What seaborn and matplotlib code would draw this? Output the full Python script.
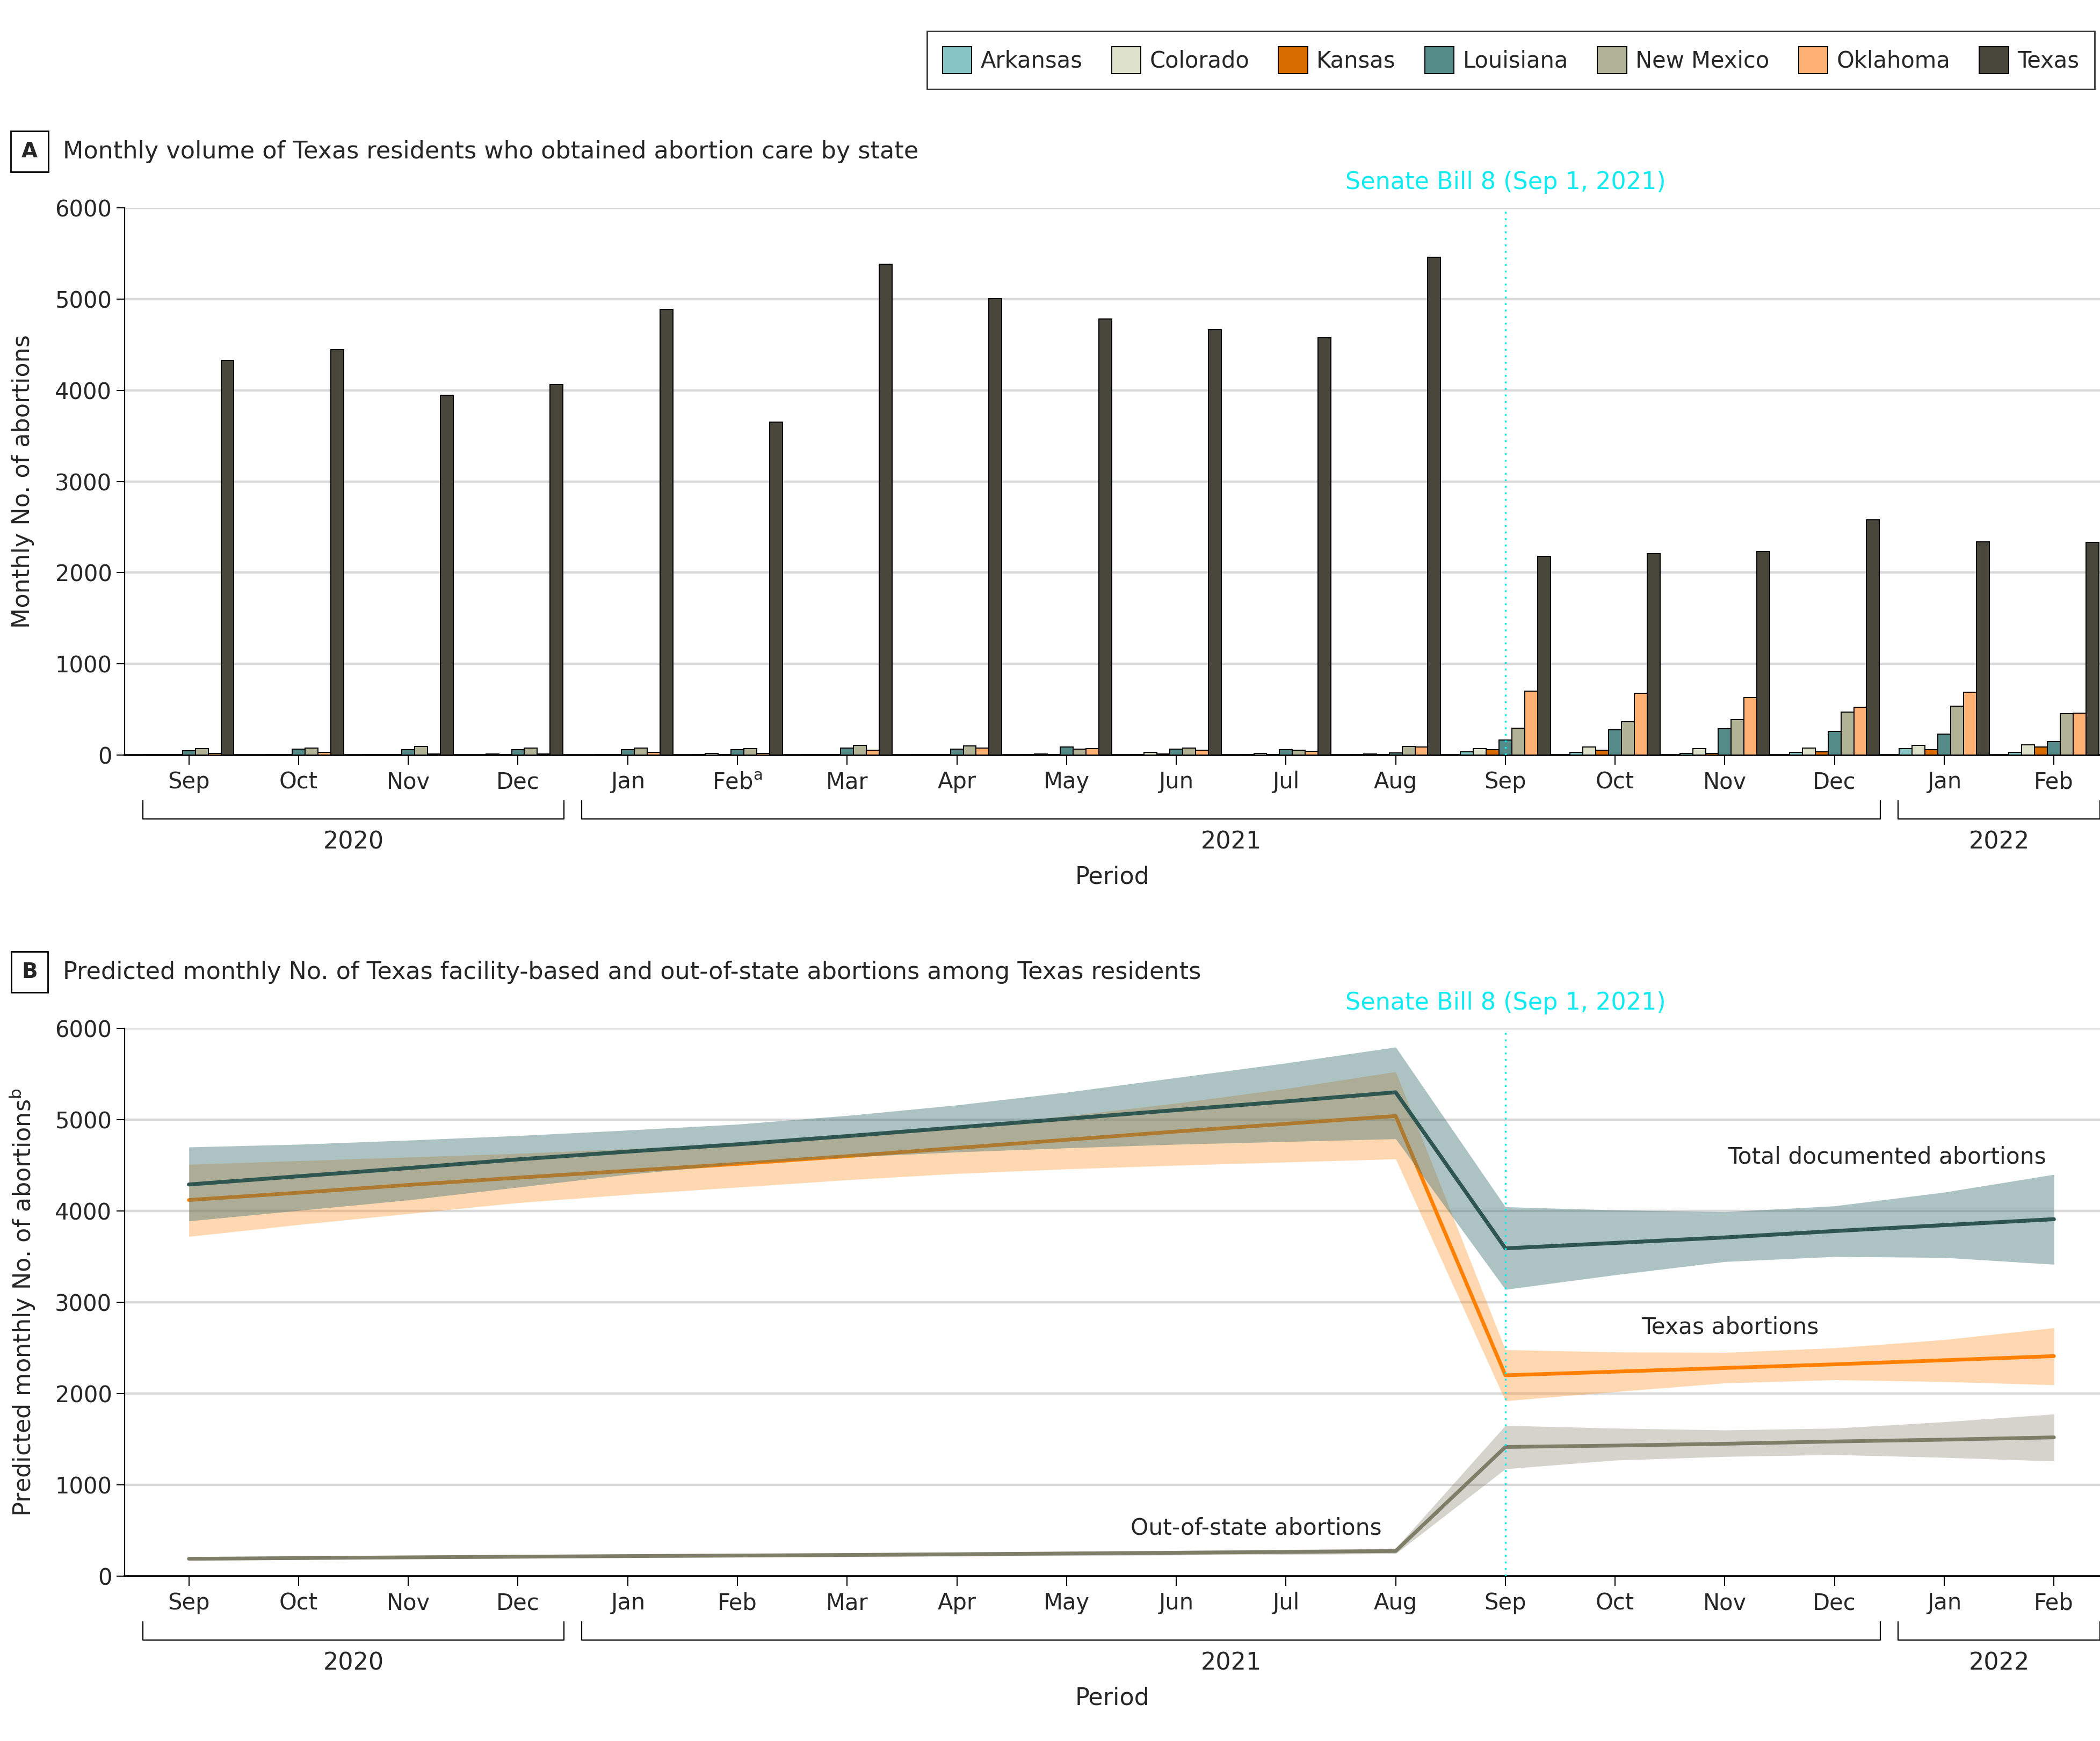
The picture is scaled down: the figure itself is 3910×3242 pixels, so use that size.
import matplotlib
matplotlib.use("Agg")
import matplotlib.pyplot as plt
import matplotlib.transforms as mtransforms
import seaborn as sns
import pandas as pd
import numpy as np

# ---------------- data ----------------
periods = ["2020-09", "2020-10", "2020-11", "2020-12", "2021-01", "2021-02", "2021-03",
           "2021-04", "2021-05", "2021-06", "2021-07", "2021-08", "2021-09", "2021-10",
           "2021-11", "2021-12", "2022-01", "2022-02"]
month_labels_a = ["Sep", "Oct", "Nov", "Dec", "Jan", "Feb$^{\\mathrm{a}}$", "Mar", "Apr", "May", "Jun",
                  "Jul", "Aug", "Sep", "Oct", "Nov", "Dec", "Jan", "Feb"]
month_labels_b = ["Sep", "Oct", "Nov", "Dec", "Jan", "Feb", "Mar", "Apr", "May", "Jun",
                  "Jul", "Aug", "Sep", "Oct", "Nov", "Dec", "Jan", "Feb"]
years = ["2020", "2021", "2022"]
year_first = [0, 4, 16]
year_last = [3, 15, 17]

states = ["Arkansas", "Colorado", "Kansas", "Louisiana", "New Mexico", "Oklahoma", "Texas"]
arkansas = [3, 2, 3, 2, 2, 5, 3, 3, 3, 4, 8, 8, 35, 28, 18, 30, 69, 30]
colorado = [4, 3, 8, 10, 8, 15, 8, 8, 12, 28, 20, 12, 71, 89, 71, 75, 104, 112]
kansas = [8, 8, 8, 5, 8, 8, 8, 8, 8, 10, 8, 4, 59, 53, 20, 37, 61, 89]
louisiana = [45, 63, 59, 57, 61, 59, 79, 63, 89, 63, 61, 22, 162, 274, 288, 262, 229, 150]
new_mexico = [70, 75, 93, 79, 79, 69, 106, 102, 65, 77, 55, 93, 295, 368, 390, 469, 536, 453]
oklahoma = [15, 28, 10, 12, 28, 20, 55, 75, 73, 51, 41, 87, 699, 676, 632, 526, 690, 461]
texas = [4330, 4445, 3946, 4064, 4885, 3653, 5384, 5002, 4782, 4665, 4577, 5457,
         2180, 2210, 2230, 2580, 2340, 2330]

total_pred = [4290, 4380, 4470, 4565, 4650, 4730, 4820, 4915, 5010, 5105, 5200, 5300,
              3590, 3650, 3710, 3780, 3845, 3910]
total_hi = [4700, 4730, 4775, 4825, 4885, 4950, 5045, 5160, 5300, 5460, 5620, 5795,
            4045, 4010, 3990, 4055, 4205, 4400]
total_lo = [3890, 4005, 4120, 4260, 4400, 4515, 4590, 4645, 4690, 4730, 4760, 4790,
            3140, 3300, 3445, 3500, 3490, 3415]
texas_pred = [4120, 4200, 4285, 4365, 4440, 4515, 4600, 4690, 4780, 4870, 4955, 5040,
              2200, 2240, 2280, 2320, 2365, 2410]
texas_hi = [4510, 4550, 4590, 4630, 4680, 4740, 4820, 4920, 5040, 5180, 5340, 5525,
            2480, 2455, 2450, 2500, 2590, 2720]
texas_lo = [3720, 3850, 3970, 4090, 4180, 4260, 4340, 4410, 4460, 4500, 4535, 4570,
            1920, 2020, 2115, 2150, 2130, 2095]
oos_pred = [190, 198, 206, 213, 220, 226, 232, 240, 248, 256, 265, 275,
            1415, 1430, 1450, 1475, 1495, 1520]
oos_hi = [205, 214, 223, 231, 239, 246, 253, 262, 271, 281, 292, 305,
          1650, 1620, 1600, 1620, 1690, 1775]
oos_lo = [175, 182, 189, 195, 201, 206, 211, 218, 225, 231, 238, 245,
          1175, 1270, 1310, 1330, 1300, 1260]

sb8_index = 12

# ---------------- style ----------------
state_colors = ["#87C4C4", "#DEE1CA", "#D96C00", "#558C8A", "#B1B396", "#FFB072", "#49463C"]
c_total = "#2E5550"
c_total_band = "#3C7272"
c_texas = "#FF8000"
c_oos = "#7E7D68"
c_cyan = "#12EAF2"
grid_c = "#D9D9D9"

sns.set_theme(style="white")
plt.rcParams["font.family"] = ["DejaVu Sans"]
FS = 30
FT = 32

W, H = 3910, 3242
fig = plt.figure(figsize=(W / 100, H / 100), dpi=100)

def axes_rect(left, top, right, bottom):
    return [left / W, 1 - bottom / H, (right - left) / W, (bottom - top) / H]

axA = fig.add_axes(axes_rect(232, 387, 3910, 1406))
axB = fig.add_axes(axes_rect(232, 1915, 3910, 2935))

# ---------------- panel A ----------------
dfA = pd.DataFrame({
    "period": periods * len(states),
    "state": np.repeat(states, len(periods)),
    "count": arkansas + colorado + kansas + louisiana + new_mexico + oklahoma + texas,
})
sns.barplot(data=dfA, x="period", y="count", hue="state", order=periods, hue_order=states,
            palette=state_colors, saturation=1, width=0.82, gap=0, edgecolor="black", linewidth=1.4,
            errorbar=None, ax=axA, zorder=3)
handles, labels = axA.get_legend_handles_labels()
if axA.get_legend() is not None:
    axA.get_legend().remove()

# ---------------- panel B ----------------
xs = np.arange(len(periods))
axB.fill_between(xs, texas_lo, texas_hi, color=c_texas, alpha=0.3, lw=0, zorder=2)
sns.lineplot(x=xs, y=texas_pred, color=c_texas, lw=5, ax=axB, zorder=3)
axB.fill_between(xs, total_lo, total_hi, color=c_total_band, alpha=0.42, lw=0, zorder=4)
sns.lineplot(x=xs, y=total_pred, color=c_total, lw=5.2, ax=axB, zorder=5)
axB.fill_between(xs, oos_lo, oos_hi, color=c_oos, alpha=0.33, lw=0, zorder=4)
sns.lineplot(x=xs, y=oos_pred, color=c_oos, lw=5, ax=axB, zorder=5)

axB.text(16.93, 4592, "Total documented abortions", ha="right", va="center", fontsize=FT - 1.5, zorder=6)
axB.text(14.05, 2729, "Texas abortions", ha="center", va="center", fontsize=FT - 1.5, zorder=6)
axB.text(9.73, 528, "Out-of-state abortions", ha="center", va="center", fontsize=FT - 1.5, zorder=6)

# ---------------- common axes formatting ----------------
for ax, mlabels, ylabel in [(axA, month_labels_a, "Monthly No. of abortions"),
                            (axB, month_labels_b, "Predicted monthly No. of abortions$^{\\mathrm{b}}$")]:
    ax.set_xlim(-0.586, 17.42)
    ax.set_ylim(0, 6000)
    ax.set_yticks([0, 1000, 2000, 3000, 4000, 5000, 6000])
    ax.set_yticklabels(["0", "1000", "2000", "3000", "4000", "5000", "6000"], fontsize=FS)
    ax.set_xticks(range(len(periods)))
    ax.set_xticklabels(mlabels, fontsize=FS)
    ax.set_xlabel("")
    ax.set_ylabel(ylabel, fontsize=FT, va="center")
    ax.yaxis.set_label_coords(-0.0515, 0.5)
    ax.grid(axis="y", color=grid_c, lw=3.2, zorder=0)
    ax.grid(axis="x", visible=False)
    ax.set_axisbelow(True)
    for s in ["top", "right"]:
        ax.spines[s].set_visible(False)
    ax.spines["left"].set_color("black")
    ax.spines["left"].set_linewidth(1.6)
    ax.spines["bottom"].set_color("black")
    ax.spines["bottom"].set_linewidth(2.6)
    ax.tick_params(axis="x", direction="out", length=13, width=1.5, color="black", pad=8, bottom=True)
    ax.tick_params(axis="y", direction="out", length=11, width=1.5, color="black", pad=6, left=True)
    ax.axvline(sb8_index, color=c_cyan, ls=(0, (1, 2.5)), lw=2.5, zorder=6)
    ax.text(sb8_index, 6000 * 1.047, "Senate Bill 8 (Sep 1, 2021)", color=c_cyan,
            ha="center", va="center", fontsize=FT)
    trans = mtransforms.blended_transform_factory(ax.transData, ax.transAxes)
    for yr, a, b in zip(years, year_first, year_last):
        x0, x1 = a - 0.42, b + 0.42
        ax.plot([x0, x0, x1, x1], [-0.083, -0.117, -0.117, -0.083], color="black", lw=1.6,
                transform=trans, clip_on=False)
        ax.text((x0 + x1) / 2, -0.159, yr, transform=trans, ha="center", va="center", fontsize=FT)
    ax.text(0.5, -0.223, "Period", transform=ax.transAxes, ha="center", va="center", fontsize=FT)

# ---------------- panel titles ----------------
def panel_title(letter, title, yc):
    fig.text(55 / W, 1 - yc / H, letter, ha="center", va="center", fontsize=FS - 2, fontweight="bold",
             bbox=dict(boxstyle="square,pad=0.5", fc="white", ec="black", lw=2))
    fig.text(117 / W, 1 - yc / H, title, ha="left", va="center", fontsize=FT)

panel_title("A", "Monthly volume of Texas residents who obtained abortion care by state", 282)
panel_title("B", "Predicted monthly No. of Texas facility-based and out-of-state abortions among Texas residents", 1810)

# ---------------- legend ----------------
leg = fig.legend(handles, labels, loc="center", bbox_to_anchor=(((1731 + 3895) / 2) / W, 1 - 112 / H),
                 ncol=7, frameon=True, fancybox=False, edgecolor="black", fontsize=FS,
                 handlelength=1.3, handleheight=1.45, handletextpad=0.4, columnspacing=1.3,
                 borderpad=0.7)
leg.get_frame().set_linewidth(2)

fig.savefig("out.png", dpi=100, facecolor="white")
